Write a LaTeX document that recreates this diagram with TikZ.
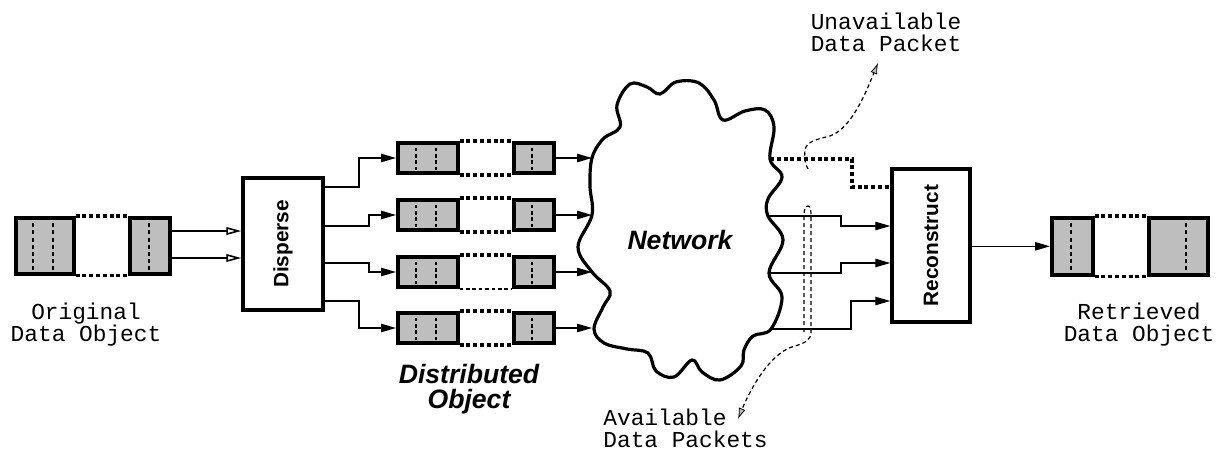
\documentclass[tikz,border=0pt]{standalone}
\usepackage{fontspec}
\setmainfont{Liberation Sans}
\newfontfamily\monofont{Liberation Mono}
\usetikzlibrary{arrows.meta}
\definecolor{blockgray}{RGB}{190,190,190}
\tikzset{
  blk/.style={draw, line width=1.8pt, fill=blockgray, inner sep=0pt, anchor=north west},
  rowblk/.style={draw, line width=1.8pt, fill=blockgray, inner sep=0pt, anchor=west, minimum height=15pt},
  procbox/.style={draw, line width=1.7pt, fill=white, inner sep=0pt, rotate=90,
     font=\fontsize{10.4}{12}\selectfont\bfseries},
  conn/.style={line width=0.65pt},
  dotconn/.style={line width=1.8pt, dash pattern=on 2pt off 1.4pt},
  thindot/.style={line width=1pt, dash pattern=on 1.8pt off 1.4pt},
  innerdash/.style={line width=0.55pt, dash pattern=on 2pt off 1.6pt},
  innerthick/.style={line width=1.1pt, dash pattern=on 1.8pt off 1.4pt},
  arr/.style={-{Triangle[length=7.5pt,width=4.2pt]}},
  openarr/.style={-{Triangle[open,length=7.5pt,width=3.8pt,line width=0.8pt]}},
  annot/.style={line width=0.6pt, dash pattern=on 2pt off 1.5pt,
     -{Latex[length=5.5pt,width=3.6pt,fill=gray!55,line width=0.4pt]}},
  cloudline/.style={line width=1.6pt},
  monolbl/.style={font=\monofont\fontsize{11.4}{10.9}\selectfont, align=center, inner sep=0pt},
  boldlbl/.style={font=\fontsize{13.3}{12.2}\selectfont\bfseries\itshape, align=center, inner sep=0pt}
}
\begin{document}
\begin{tikzpicture}[x=0.5pt, y=-0.5pt]
\useasboundingbox (0,0) rectangle (1216,449);

% ---------------- original data object
\node[blk, minimum width=29pt, minimum height=28pt] (a1) at (14,216) {};
\node[blk, minimum width=20pt, minimum height=28pt] (a2) at (128,216) {};
\draw[innerdash] (a1.north west) ++(19,0) -- ++(0,56);
\draw[innerdash] (a1.north west) ++(39,0) -- ++(0,56);
\draw[innerdash] (a2.north west) ++(21,0) -- ++(0,56);
\draw[dotconn] (a1.north east) -- (a2.north west);
\draw[dotconn] (a1.south east) -- (a2.south west);
\node[monolbl] (origlbl) at (86,325) {Original\\Data Object};

% ---------------- disperse
\node[procbox, minimum width=66pt, minimum height=40pt] (disp) at (283,244) {Disperse};
\draw[conn,openarr] (a2.east |- 0,231) -- (disp.north |- 0,231);
\draw[conn,openarr] (a2.east |- 0,258) -- (disp.north |- 0,258);

% ---------------- distributed object rows
\foreach \i/\y in {1/158,2/215,3/272,4/328}{
  \node[rowblk, minimum width=30pt] (p\i a) at (396,\y) {};
  \node[rowblk, minimum width=20pt] (p\i b) at (512,\y) {};
  \draw[innerthick] (p\i a.north west) ++(20,0) -- ++(0,30);
  \draw[innerthick] (p\i a.north west) ++(40,0) -- ++(0,30);
  \draw[innerthick] (p\i b.north west) ++(20,0) -- ++(0,30);
  \draw[dotconn] (p\i a.north east) -- (p\i b.north west);
  \coordinate (cl\i) at (592,\y);
  \draw[conn,arr] (p\i b.east) -- (cl\i);
}
\draw[dotconn] (p1a.south east) -- (p1b.south west);
\draw[dotconn] (p2a.south east) -- (p2b.south west);
\draw[thindot] (p3a.south east) -- (p3b.south west);
\draw[dotconn] (p4a.south east) -- (p4b.south west);

\draw[conn,arr] (disp.south |- 0,187) -- (359,187) |- (p1a.west);
\draw[conn,arr] (disp.south |- 0,226) -- (369,226) |- (p2a.west);
\draw[conn,arr] (disp.south |- 0,263) -- (369,263) |- (p3a.west);
\draw[conn,arr] (disp.south |- 0,301) -- (359,301) |- (p4a.west);
\node[boldlbl] (distlbl) at (469,389) {Distributed\\Object};

% ---------------- network cloud
\draw[cloudline, fill=white] plot[smooth cycle, tension=0.62] coordinates {
 (592,158) (603,139) (620,127) (617,105) (630,84) (647,87) (660,94) (676,82)
 (699,83) (714,100) (723,120) (745,111) (765,110) (774,127) (770,159)
 (782,177) (768,199) (768,216) (783,240) (769,273) (782,297) (771,329)
 (753,336) (744,350) (741,366) (720,380) (702,372) (692,360) (674,377)
 (656,371) (648,353) (627,349) (604,343) (594,329) (603,307) (610,291)
 (592,272) (578,247) (592,215) (590,186)};
\node[boldlbl] (net) at (680,240) {Network};

% ---------------- reconstruct
\node[procbox, minimum width=76.5pt, minimum height=39pt] (rec) at (931,245.5) {Reconstruct};
\coordinate (cr0) at (770,159);
\coordinate (cr1) at (768,216);
\coordinate (cr2) at (769,273);
\coordinate (cr3) at (771,329);
\draw[dotconn] (cr0) -- (852,159) |- (rec.north |- 0,187);
\draw[conn,arr] (cr1) -- (841,216) |- (rec.north |- 0,226);
\draw[conn,arr] (cr2) -- (841,273) |- (rec.north |- 0,263);
\draw[conn,arr] (cr3) -- (851,329) |- (rec.north |- 0,301);

% ---------------- retrieved data object
\node[blk, minimum width=20.5pt, minimum height=28.5pt] (r1) at (1050,216) {};
\node[blk, minimum width=29.5pt, minimum height=28.5pt] (r2) at (1147,216) {};
\draw[innerdash] (r1.north west) ++(21,0) -- ++(0,57);
\draw[innerdash] (r2.north west) ++(39,0) -- ++(0,57);
\draw[dotconn] (r1.north east) -- (r2.north west);
\draw[dotconn] (r1.south east) -- (r2.south west);
\draw[conn,arr] (rec.south |- r1.west) -- (r1.west);
\node[monolbl] (retlbl) at (1139,325) {Retrieved\\Data Object};

% ---------------- annotations
\node[monolbl] (unavail) at (886,32) {Unavailable\\Data Packet};
\node[monolbl, align=left, anchor=west] (avail) at (603,428) {Available\\Data Packets};
\coordinate (uptip) at (878,63);
\coordinate (lowtip) at (738,419);
\draw[annot] (808,169) .. controls (804,162) and (804,152) .. (806,147)
   .. controls (809,141) and (818,139) .. (830,136)
   .. controls (852,128) and (866,92) .. (uptip);
\draw[annot] (804,332) -- (804,215) .. controls (804,209) and (806,206) .. (808,206)
   .. controls (810,206) and (811,209) .. (811,215) -- (811,332)
   .. controls (811,340) and (805,343) .. (795,346)
   .. controls (770,352) and (750,390) .. (lowtip);
\end{tikzpicture}
\end{document}
